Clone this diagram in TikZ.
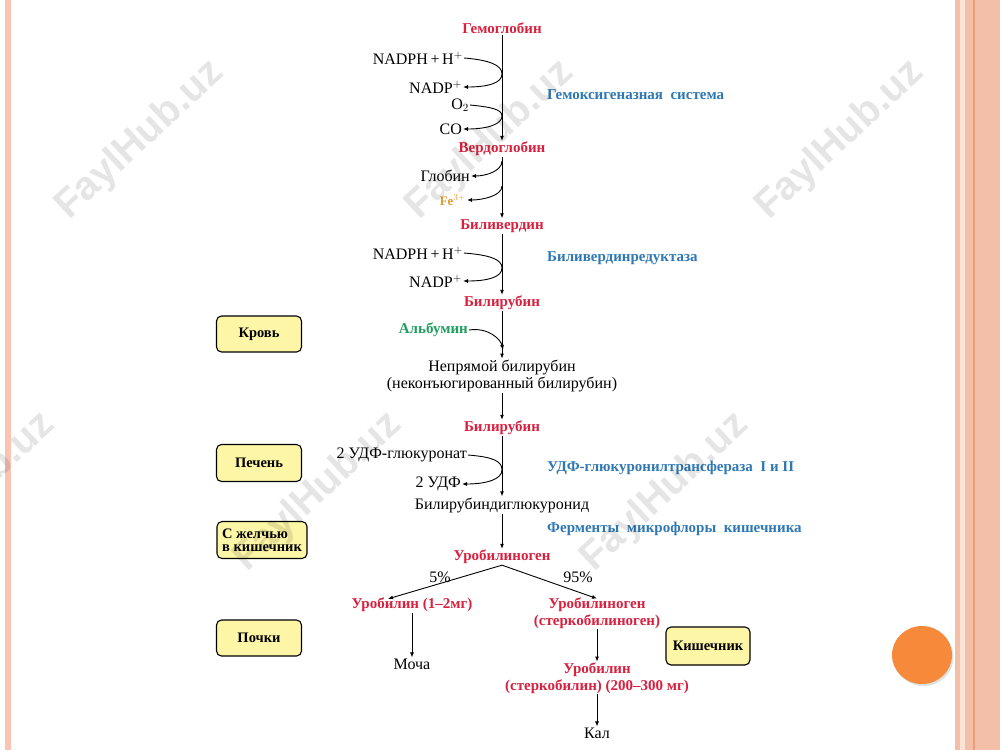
\documentclass[tikz,border=0pt]{standalone}
\usepackage{fontspec}
\setmainfont{Liberation Serif}
\newfontfamily\wmfont{Liberation Sans}
\usetikzlibrary{arrows.meta}
\definecolor{rd}{HTML}{D9203F}
\definecolor{bl}{HTML}{2F78B4}
\definecolor{gr}{HTML}{1E9E5E}
\definecolor{feclr}{HTML}{E39A2E}
\definecolor{boxfill}{HTML}{FDF6A6}
\definecolor{peach}{HTML}{F3BFA9}
\definecolor{peachl}{HTML}{FBE3D8}
\definecolor{peachd}{HTML}{F19E78}
\definecolor{lstripe}{HTML}{F9C4B4}
\definecolor{circ}{HTML}{F7893A}
\begin{document}
\begin{tikzpicture}[x=1pt,y=-1pt,
  rlab/.style={text=rd,font=\bfseries\fontsize{15}{17}\selectfont,inner sep=1pt},
  blab/.style={text=bl,font=\bfseries\fontsize{15}{17}\selectfont,inner sep=1pt,anchor=west},
  plab/.style={text=black,font=\fontsize{16}{18}\selectfont,inner sep=1pt},
  slab/.style={text=black,font=\fontsize{16}{18}\selectfont,inner sep=1pt,anchor=east},
  mlab/.style={text=black,font=\fontsize{16}{17.5}\selectfont,inner sep=1pt,align=center},
  rmlab/.style={text=rd,font=\bfseries\fontsize{15}{16.5}\selectfont,inner sep=1pt,align=center},
  regbox/.style={draw=black,line width=1.1pt,fill=boxfill,rounded corners=5pt,
    font=\bfseries\fontsize{14.5}{13}\selectfont,align=left,inner sep=0pt},
  flow/.style={draw=black,line width=0.9pt,-{Latex[length=5pt,width=4pt]}},
  side/.style={draw=black,line width=0.9pt,-{Latex[length=5pt,width=4pt]}},
  wmark/.style={font=\wmfont\bfseries\fontsize{40}{40}\selectfont,text=black,text opacity=0.1,rotate=43}
]
\useasboundingbox (0,0) rectangle (1000,750);
\fill[white] (0,0) rectangle (1000,750);
% borders
\fill[lstripe] (5,0) rectangle (11,750);
\fill[peach] (955,0) rectangle (1000,750);
\fill[peachl] (960,0) rectangle (965,750);
\fill[peachd] (972.5,0) rectangle (975,750);
% circle
\fill[black!12] (923.5,657) ellipse (30 and 29);
\fill[circ] (922,655) ellipse (30 and 29);

% main column
\node[rlab] (hb) at (502,28) {Гемоглобин};
\node[rlab] (vg) at (502,149) {Вердоглобин};
\node[rlab] (bv) at (502,226) {Биливердин};
\node[rlab] (br1) at (502,303) {Билирубин};
\node[mlab] (ib) at (502,376) {Непрямой билирубин\\(неконъюгированный билирубин)};
\node[rlab] (br2) at (502,428) {Билирубин};
\node[plab] (bdg) at (502,505) {Билирубиндиглюкуронид};
\node[rlab] (ubg) at (502,557) {Уробилиноген};
\node[rlab] (ub1) at (412,605) {Уробилин (1--2мг)};
\node[plab] (mocha) at (412,664) {Моча};
\node[rmlab] (ubg2) at (597,613) {Уробилиноген\\(стеркобилиноген)};
\node[rmlab] (ub2) at (597,678) {Уробилин\\(стеркобилин) (200--300 мг)};
\node[plab] (kal) at (597,733) {Кал};

% side labels
\node[slab] (nadph1) at (464,58) {NADPH\,+\,H$^{+}$};
\node[slab] (nadp1) at (463,87) {NADP$^{+}$};
\node[slab] (o2) at (470,105) {O$_2$};
\node[slab] (co) at (463,129) {CO};
\node[blab] (gemox) at (546,95) {Гемоксигеназная\ \ система};
\node[slab] (globin) at (471,176) {Глобин};
\node[text=feclr,font=\bfseries\fontsize{13}{15}\selectfont,inner sep=1pt,anchor=east] (fe) at (467,200) {Fe$^{3+}$};
\node[slab] (nadph2) at (464,253) {NADPH\,+\,H$^{+}$};
\node[slab] (nadp2) at (463,281) {NADP$^{+}$};
\node[blab] (bvred) at (546,258) {Биливердинредуктаза};
\node[text=gr,font=\bfseries\fontsize{15}{17}\selectfont,inner sep=1pt,anchor=east] (alb) at (469,330) {Альбумин};
\node[slab] (udfg) at (468,455) {2 УДФ-глюкуронат};
\node[slab] (udf) at (462,484) {2 УДФ};
\node[blab] (udftr) at (546,468) {УДФ-глюкуронилтрансфераза\ \ I и II};
\node[blab] (ferm) at (546,529) {Ферменты\ \ микрофлоры\ \ кишечника};
\node[plab] (p5) at (440,577) {5\%};
\node[plab] (p95) at (578,577) {95\%};

% region boxes
\node[regbox,minimum width=85pt,minimum height=36pt] (krov) at (259,334) {Кровь};
\node[regbox,minimum width=85pt,minimum height=37pt] (pech) at (259,463) {Печень};
\node[regbox,minimum width=90pt,minimum height=37pt] (zhel) at (262,540) {С желчью\\в кишечник};
\node[regbox,minimum width=85pt,minimum height=36pt] (poch) at (259,638) {Почки};
\node[regbox,minimum width=84pt,minimum height=38pt] (kish) at (708,646) {Кишечник};

% main arrows
\draw[flow] (hb.south) -- (vg.north);
\draw[flow] (vg.south) -- (bv.north);
\draw[flow] (bv.south) -- (br1.north);
\draw[flow] (br1.south) -- (ib.north);
\draw[flow] (ib.south) -- (br2.north);
\draw[flow] (br2.south) -- (bdg.north);
\draw[flow] (bdg.south) -- (ubg.north);
\draw[flow] (ubg.south) -- ([xshift=-24pt,yshift=-2pt]ub1.north);
\draw[flow] (ubg.south) -- ([yshift=-2pt]ubg2.north);
\draw[flow] (ub1.south) -- (mocha.north);
\draw[flow] (ubg2.south) -- (ub2.north);
\draw[flow] (ub2.south) -- (kal.north);

% side curves
\coordinate (t1) at (502,74);
\coordinate (t2) at (502,116);
\coordinate (t3) at (502,161);
\coordinate (t4) at (502,186);
\coordinate (t5) at (502,268);
\coordinate (t6) at (503,350);
\coordinate (t7) at (502,470);
\draw[side] (nadph1.east) .. controls +(25,2) and +(0,-9) .. (t1) .. controls +(0,9) and +(25,0) .. (nadp1.east);
\draw[side] (o2.east) .. controls +(20,2) and +(0,-7) .. (t2) .. controls +(0,8) and +(25,0) .. (co.east);
\draw[side] (t3) .. controls +(0,10) and +(15,0) .. (globin.east);
\draw[side] (t4) .. controls +(0,10) and +(15,0) .. (fe.east);
\draw[side] (nadph2.east) .. controls +(25,2) and +(0,-9) .. (t5) .. controls +(0,9) and +(25,0) .. (nadp2.east);
\draw[side] (alb.east) .. controls +(20,-3) and +(-2,-10) .. (t6);
\draw[side] (udfg.east) .. controls +(25,2) and +(0,-9) .. (t7) .. controls +(0,9) and +(25,0) .. (udf.east);

% watermarks
\begin{scope}
\clip (0,0) rectangle (1000,750);
\node[wmark] (w1) at (140,140) {FaylHub.uz};
\node[wmark] (w2) at (490,140) {FaylHub.uz};
\node[wmark] (w3) at (840,140) {FaylHub.uz};
\node[wmark] (w4) at (-29,492) {FaylHub.uz};
\node[wmark] (w5) at (318,492) {FaylHub.uz};
\node[wmark] (w6) at (665,492) {FaylHub.uz};
\end{scope}
\end{tikzpicture}
\end{document}
